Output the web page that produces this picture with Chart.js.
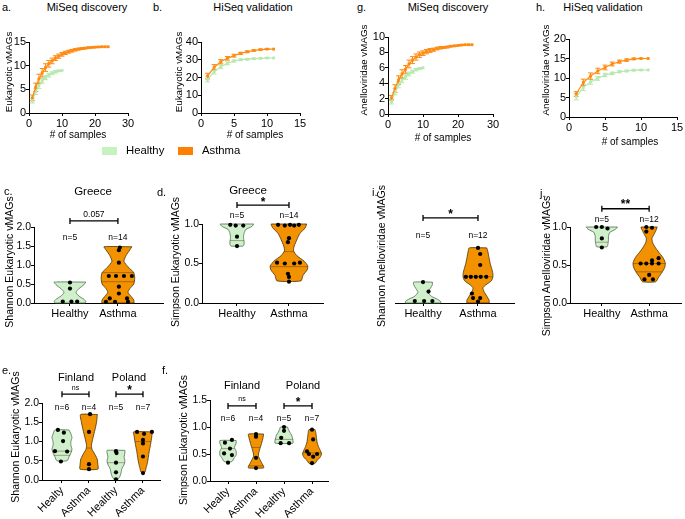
<!DOCTYPE html>
<html><head><meta charset="utf-8">
<script src="https://cdn.jsdelivr.net/npm/chart.js@4.4.1/dist/chart.umd.min.js"></script>
<style>
html,body{margin:0;padding:0;background:#fff;}
#wrap{position:relative;width:685px;height:519px;overflow:hidden;font-family:"Liberation Sans",Arial,sans-serif;color:#000;background:#fff;}
canvas{position:absolute;}
.t{position:absolute;white-space:nowrap;line-height:1;}
</style></head><body><div id="wrap"></div>
<script>
// ---------- rarefaction data ----------
const miseqAsthmaN = [1,2,3,4,5,6,7,8,9,10,11,12,13,14,15,16,17,18,19,20,21,22,23,24];
const miseqHealthyN = [1,2,3,4,5,6,7,8,9,10];
const hiseqN = [1,2,3,4,5,6,7,8,9,10,11];

const eukMiseqAsthma = [3.2,5.4,7.2,8.5,9.6,10.4,11.0,11.6,12.0,12.4,12.7,12.95,13.15,13.35,13.5,13.6,13.7,13.8,13.85,13.9,13.95,14.0,14.0,14.0];
const eukMiseqAsthmaErr = [0.6,0.9,1.0,0.9,0.8,0.7,0.6,0.5,0.45,0.4,0.35,0.3,0.28,0.25,0.2,0.18,0.15,0.12,0.1,0.08,0.06,0.04,0.02,0];
const eukMiseqHealthy = [2.6,4.5,5.8,6.8,7.5,8.0,8.4,8.7,8.9,9.0];
const eukMiseqHealthyErr = [0.5,0.6,0.6,0.5,0.45,0.4,0.3,0.25,0.15,0];

const eukHiseqAsthma = [20.8,25.8,28.9,30.8,32.3,33.6,34.5,35.2,35.7,36.0,36.0];
const eukHiseqAsthmaErr = [1.6,1.5,1.2,1.0,0.8,0.6,0.5,0.4,0.3,0.2,0];
const eukHiseqHealthy = [19.0,23.3,26.0,28.0,29.3,30.0,30.3,30.6,30.8,31.0,31.0];
const eukHiseqHealthyErr = [1.5,1.3,1.0,0.8,0.6,0.5,0.4,0.3,0.2,0.1,0];

const aneMiseqAsthma = [2.1,3.3,4.4,5.2,5.8,6.5,7.0,7.4,7.7,7.9,8.1,8.25,8.35,8.5,8.6,8.65,8.7,8.8,8.85,8.9,8.95,9.0,9.0,9.0];
const aneMiseqAsthmaErr = [0.3,0.5,0.55,0.55,0.5,0.5,0.45,0.4,0.35,0.3,0.28,0.25,0.2,0.18,0.15,0.12,0.1,0.08,0.06,0.05,0.04,0.03,0.02,0];
const aneMiseqHealthy = [1.6,2.9,3.8,4.4,4.8,5.2,5.5,5.75,5.9,6.0];
const aneMiseqHealthyErr = [0.3,0.4,0.4,0.35,0.3,0.25,0.2,0.15,0.1,0];

const aneHiseqAsthma = [5.9,8.9,10.5,11.8,12.7,13.6,14.2,14.6,14.9,15.0,15.0];
const aneHiseqAsthmaErr = [0.6,0.8,0.8,0.7,0.6,0.5,0.4,0.3,0.2,0.1,0];
const aneHiseqHealthy = [5.2,7.6,9.0,9.9,10.8,11.2,11.6,11.8,12.0,12.05,12.05];
const aneHiseqHealthyErr = [0.8,0.8,0.6,0.5,0.4,0.3,0.25,0.2,0.15,0.1,0];

// ---------- violin data (levels = y, widths = half width in category units) ----------
const groupLabels = ['Healthy','Asthma'];
const countryLabels = ['Healty','Asthma','Healthy','Asthma'];

// c. Shannon Eukaryotic, Greece
const cHealthyLevels = [0.55,0.48,0.38,0.28,0.18,0.1,0.04,0.0];
const cHealthyWidths = [0.33,0.29,0.19,0.125,0.19,0.29,0.33,0.31];
const cHealthyPts = [0.54,0.38,0.04,0.04,0.04];
const cHealthyJit = [0,0,-0.15,0.03,0.15];
const cAsthmaLevels = [1.48,1.4,1.25,1.1,0.95,0.8,0.65,0.5,0.38,0.28,0.18,0.08,0.0];
const cAsthmaWidths = [0.29,0.25,0.17,0.125,0.21,0.33,0.35,0.33,0.25,0.21,0.27,0.33,0.33];
const cAsthmaPts = [1.46,1.39,1.06,0.71,0.71,0.71,0.71,0.43,0.25,0.12,0.12,0.03,0.03,0.03];
const cAsthmaJit = [0.04,0.02,0.02,-0.19,-0.04,0.125,0.29,0.02,0.02,-0.17,0.19,-0.25,-0.06,0.21];
const cAsthmaQuart = [[0.8,0.33],[0.56,0.345]];

// d. Simpson Eukaryotic, Greece
const dHealthyLevels = [1.0,0.97,0.93,0.88,0.83,0.78,0.74,0.72];
const dHealthyWidths = [0.32,0.29,0.17,0.135,0.125,0.135,0.135,0.115];
const dHealthyPts = [0.99,0.98,0.98,0.84,0.72];
const dHealthyJit = [-0.13,-0.025,0.12,0,0];
const dHealthyQuart = [[0.79,0.135]];
const dAsthmaLevels = [1.0,0.95,0.88,0.8,0.72,0.66,0.6,0.53,0.47,0.42,0.35,0.28];
const dAsthmaWidths = [0.34,0.31,0.21,0.15,0.1,0.087,0.15,0.29,0.36,0.35,0.27,0.23];
const dAsthmaPts = [0.99,0.98,0.99,0.98,0.99,0.82,0.77,0.51,0.5,0.5,0.51,0.37,0.33,0.27];
const dAsthmaJit = [-0.21,-0.08,0.02,0.1,0.19,0,-0.02,-0.23,-0.08,0.1,0.21,-0.02,0,0];
const dAsthmaQuart = [[0.65,0.09],[0.46,0.36]];

// i. Shannon Anelloviridae
const iHealthyLevels = [0.55,0.48,0.38,0.28,0.18,0.1,0.04,0.0];
const iHealthyWidths = [0.17,0.17,0.13,0.094,0.15,0.26,0.32,0.32];
const iHealthyPts = [0.55,0.3,0.05,0.05,0.05];
const iHealthyJit = [0,0.1,-0.15,0.02,0.17];
const iAsthmaLevels = [1.45,1.35,1.2,1.05,0.9,0.78,0.68,0.58,0.48,0.4,0.3,0.18,0.08,0.0];
const iAsthmaWidths = [0.16,0.18,0.2,0.22,0.25,0.27,0.27,0.24,0.145,0.09,0.11,0.16,0.2,0.2];
const iAsthmaPts = [1.45,1.29,1.0,0.69,0.69,0.69,0.69,0.69,0.25,0.13,0.13,0.04];
const iAsthmaJit = [0,0.04,0.04,-0.22,-0.13,-0.04,0.05,0.15,-0.11,-0.09,0.04,0];
const iAsthmaQuart = [[0.69,0.27]];

// j. Simpson Anelloviridae
const jHealthyLevels = [1.0,0.97,0.93,0.88,0.83,0.78,0.74];
const jHealthyWidths = [0.33,0.29,0.17,0.14,0.14,0.13,0.11];
const jHealthyPts = [1.0,1.0,0.98,0.85,0.73];
const jHealthyJit = [-0.12,0,0.12,0,0];
const jHealthyQuart = [[0.8,0.13]];
const jAsthmaLevels = [1.0,0.95,0.9,0.85,0.8,0.74,0.67,0.6,0.53,0.47,0.4,0.34,0.28];
const jAsthmaWidths = [0.17,0.14,0.1,0.06,0.07,0.12,0.2,0.29,0.34,0.33,0.27,0.2,0.14];
const jAsthmaPts = [1.0,0.99,0.94,0.59,0.56,0.52,0.52,0.52,0.52,0.37,0.31,0.31];
const jAsthmaJit = [-0.06,0.06,-0.06,0.2,0.06,-0.18,-0.06,0.06,0.2,0,-0.1,0.08];
const jAsthmaQuart = [[0.52,0.34],[0.41,0.28]];

// e. Shannon Eukaryotic, Finland / Poland
const e1Levels = [1.3,1.2,1.1,1.0,0.9,0.8,0.7,0.6,0.5];
const e1Widths = [0.26,0.33,0.37,0.33,0.33,0.37,0.33,0.26,0.19];
const e1Pts = [1.3,1.23,1.01,0.75,0.74,0.48];
const e1Jit = [-0.15,0.07,0.04,-0.26,0.19,-0.04];
const e1Quart = [[0.75,0.36],[0.64,0.3]];
const e2Levels = [1.7,1.5,1.3,1.1,0.9,0.8,0.7,0.55,0.4,0.28];
const e2Widths = [0.31,0.28,0.22,0.15,0.09,0.11,0.19,0.3,0.33,0.33];
const e2Pts = [1.71,1.25,0.41,0.28];
const e2Jit = [0.04,0,0,0];
const e2Quart = [[0.83,0.1]];
const e3Levels = [0.77,0.7,0.6,0.5,0.4,0.3,0.2,0.1,0.02];
const e3Widths = [0.33,0.33,0.3,0.33,0.3,0.22,0.19,0.15,0.07];
const e3Pts = [0.75,0.7,0.45,0.2,0.02];
const e3Jit = [0,0.02,0,0,0];
const e3Quart = [[0.45,0.33]];
const e4Levels = [1.25,1.15,1.0,0.85,0.7,0.55,0.4,0.3,0.2];
const e4Widths = [0.35,0.33,0.3,0.26,0.22,0.19,0.15,0.11,0.07];
const e4Pts = [1.25,1.25,1.2,1.04,0.95,0.61,0.18];
const e4Jit = [-0.22,0.33,0.04,0,0,0,0];
const e4Quart = [[1.0,0.3]];

// f. Simpson Eukaryotic, Finland / Poland
const f1Levels = [0.75,0.7,0.62,0.55,0.48,0.42,0.36];
const f1Widths = [0.29,0.29,0.23,0.29,0.29,0.21,0.14];
const f1Pts = [0.76,0.71,0.6,0.51,0.48,0.34];
const f1Jit = [0.14,-0.11,0.07,-0.14,0.14,0];
const f1Quart = [[0.6,0.23]];
const f2Levels = [0.87,0.8,0.7,0.6,0.5,0.45,0.4,0.33,0.27,0.24];
const f2Widths = [0.27,0.25,0.2,0.14,0.09,0.09,0.14,0.21,0.27,0.27];
const f2Pts = [0.87,0.82,0.43,0.24];
const f2Jit = [0,0,0,0];
const f2Quart = [[0.62,0.14],[0.28,0.27]];
const f3Levels = [1.0,0.95,0.9,0.85,0.8,0.75,0.7];
const f3Widths = [0.125,0.16,0.21,0.27,0.3,0.32,0.32];
const f3Pts = [1.0,0.93,0.8,0.7,0.7];
const f3Jit = [0,0,-0.1,-0.12,0.18];
const f3Quart = [[0.77,0.31]];
const f4Levels = [0.95,0.88,0.8,0.72,0.64,0.56,0.5,0.44,0.38,0.33];
const f4Widths = [0.11,0.14,0.16,0.18,0.23,0.3,0.34,0.29,0.18,0.11];
const f4Pts = [0.95,0.77,0.55,0.5,0.5,0.45,0.33];
const f4Jit = [0,0.04,-0.18,-0.11,0.18,0.04,0];
const f4Quart = [[0.52,0.33]];

// ---------- styles ----------
const ORANGE = '#FF8A10', GREEN = '#B6E8AF';
const VFILL_H = '#CFF0CA', VLINE_H = '#4d6e4d';
const VFILL_A = '#F39200', VLINE_A = '#4a2e00';

Chart.defaults.font.family = '"Liberation Sans", Arial, sans-serif';
Chart.defaults.color = '#000';
Chart.defaults.animation = false;

const W = document.getElementById('wrap');

const anno = {
  id: 'anno',
  beforeDatasetsDraw(chart) {
    const ctx = chart.ctx, ys = chart.scales.y, xs = chart.scales.x;
    ctx.save();
    chart.data.datasets.forEach((ds) => {
      if (!ds.errors) return;
      ctx.strokeStyle = ds.borderColor; ctx.lineWidth = 1;
      ds.data.forEach((p, j) => {
        const e = ds.errors[j]; if (!e) return;
        const x = xs.getPixelForValue(p.x);
        const y1 = ys.getPixelForValue(p.y + e), y2 = ys.getPixelForValue(p.y - e);
        ctx.beginPath();
        ctx.moveTo(x, y1); ctx.lineTo(x, y2);
        ctx.moveTo(x - 2.5, y1); ctx.lineTo(x + 2.5, y1);
        ctx.moveTo(x - 2.5, y2); ctx.lineTo(x + 2.5, y2);
        ctx.stroke();
      });
    });
    ctx.restore();
  },
  afterDatasetsDraw(chart, args, opts) {
    const ctx = chart.ctx, xs = chart.scales.x, ys = chart.scales.y;
    ctx.save();
    (opts.brackets || []).forEach(b => {
      const x1 = xs.getPixelForValue(b.x1), x2 = xs.getPixelForValue(b.x2), y = ys.getPixelForValue(b.y);
      ctx.strokeStyle = '#000'; ctx.lineWidth = 1.3;
      ctx.beginPath();
      ctx.moveTo(x1, y); ctx.lineTo(x2, y);
      ctx.moveTo(x1, y - 3); ctx.lineTo(x1, y + 3);
      ctx.moveTo(x2, y - 3); ctx.lineTo(x2, y + 3);
      ctx.stroke();
    });
    (opts.texts || []).forEach(t => {
      ctx.fillStyle = '#000';
      ctx.font = (t.bold ? 'bold ' : '') + t.size + 'px "Liberation Sans", Arial, sans-serif';
      ctx.textAlign = 'center'; ctx.textBaseline = 'middle';
      ctx.fillText(t.text, xs.getPixelForValue(t.x), ys.getPixelForValue(t.y));
    });
    ctx.restore();
  }
};

function addCanvas(b) {
  const c = document.createElement('canvas');
  c.width = b[2]; c.height = b[3];
  c.style.left = b[0] + 'px'; c.style.top = b[1] + 'px';
  c.style.width = b[2] + 'px'; c.style.height = b[3] + 'px';
  W.appendChild(c);
  return c;
}

function axis(min, max, extra) {
  return Object.assign({
    type: 'linear', min, max,
    border: {display: true, color: '#000', width: 1},
    grid: {display: true, drawOnChartArea: false, drawTicks: true, tickLength: 3, color: '#000', lineWidth: 1},
    ticks: {color: '#000', font: {size: 11}, padding: 1, maxRotation: 0, autoSkip: false}
  }, extra);
}

// box = canvas [left, top, w, h]; area = plot area [L, T, R, B] in page px; yW / xH = fixed axis box sizes
function mk(box, area, datasets, scales, annoOpts, yW, xH) {
  const c = addCanvas(box);
  return new Chart(c, {
    type: 'line',
    data: {datasets},
    options: {
      responsive: false, animation: false,
      layout: {padding: {left: area[0] - box[0] - yW, top: area[1] - box[1], right: box[0] + box[2] - area[2], bottom: box[1] + box[3] - area[3] - xH}},
      plugins: {legend: {display: false}, tooltip: {enabled: false}, anno: annoOpts || {}},
      scales
    },
    plugins: [anno]
  });
}

function curve(xs, ys, errs, color, order) {
  return {
    data: xs.map((x, i) => ({x, y: ys[i]})), errors: errs, order,
    borderColor: color, backgroundColor: color, borderWidth: 1.2,
    pointStyle: 'rect', pointRadius: 2, pointBorderWidth: 0, tension: 0, clip: false
  };
}

const YW = 25, XH = 20, XH_ROT = 50;

function curvePanel(box, area, xmax, xstep, ymax, ystep, h, he, a, ae, hx, ax) {
  mk(box, area, [curve(hx, h, he, GREEN, 1), curve(ax, a, ae, ORANGE, 0)], {
    x: axis(0, xmax, {ticks: {color: '#000', font: {size: 11}, padding: 1, maxRotation: 0, autoSkip: false, stepSize: xstep}, afterFit(s) { s.height = XH; }}),
    y: axis(0, ymax, {ticks: {color: '#000', font: {size: 11}, padding: 0, autoSkip: false, stepSize: ystep}, afterFit(s) { s.width = YW; }})
  }, {}, YW, XH);
}

function violin(center, levels, widths, pts, jit, quart, fill, line) {
  const outline = [];
  levels.forEach((y, i) => outline.push({x: center + widths[i], y}));
  for (let i = levels.length - 1; i >= 0; i--) outline.push({x: center - widths[i], y: levels[i]});
  outline.push({x: center + widths[0], y: levels[0]});
  const sets = [{
    data: outline, fill: 'shape', backgroundColor: fill, borderColor: line, borderWidth: 0.8, order: 3,
    pointRadius: 0, tension: 0.2, clip: false, borderJoinStyle: 'round'
  }];
  (quart || []).forEach(q => sets.push({
    data: [{x: center - q[1], y: q[0]}, {x: center + q[1], y: q[0]}], order: 2,
    borderColor: 'rgba(60,40,0,0.55)', borderWidth: 0.7, pointRadius: 0, fill: false, clip: false
  }));
  sets.push({
    data: pts.map((v, i) => ({x: center + jit[i], y: v})), showLine: false, order: 1,
    pointRadius: 2.1, pointBackgroundColor: '#000', pointBorderWidth: 0, clip: false
  });
  return sets;
}

function violinPanel(box, area, xmin, xmax, ymax, ystep, labels, rot, sets, annoOpts, showY) {
  const xh = rot ? XH_ROT : XH;
  const yw = showY === false ? 0 : YW;
  const xTicks = {color: '#000', font: {size: 11}, padding: 1, autoSkip: false,
    maxRotation: rot, minRotation: rot, callback: (v, i) => labels[i]};
  const yTicks = {color: '#000', font: {size: 10.5}, padding: 0, autoSkip: false, stepSize: ystep,
    callback: v => v.toFixed(1)};
  mk(box, area, sets, {
    x: axis(xmin, xmax, {ticks: xTicks, afterBuildTicks(s) { s.ticks = labels.map((_, i) => ({value: i + 1})); }, afterFit(s) { s.height = xh; }}),
    y: showY === false ? {type: 'linear', min: 0, max: ymax, display: false}
      : axis(0, ymax, {ticks: yTicks, afterFit(s) { s.width = yw; }})
  }, annoOpts, yw, xh);
}

// ---------- rarefaction panels ----------
curvePanel([0, 20, 170, 125], [29, 42, 128, 113], 30, 10, 15, 5,
  eukMiseqHealthy, eukMiseqHealthyErr, eukMiseqAsthma, eukMiseqAsthmaErr, miseqHealthyN, miseqAsthmaN);
curvePanel([170, 20, 165, 125], [201, 42, 300, 113], 15, 5, 40, 10,
  eukHiseqHealthy, eukHiseqHealthyErr, eukHiseqAsthma, eukHiseqAsthmaErr, hiseqN, hiseqN);
curvePanel([340, 20, 175, 125], [388, 37, 493, 114], 30, 10, 10, 2,
  aneMiseqHealthy, aneMiseqHealthyErr, aneMiseqAsthma, aneMiseqAsthmaErr, miseqHealthyN, miseqAsthmaN);
curvePanel([515, 20, 170, 125], [569, 39, 677, 117], 15, 5, 20, 5,
  aneHiseqHealthy, aneHiseqHealthyErr, aneHiseqAsthma, aneHiseqAsthmaErr, hiseqN, hiseqN);

// ---------- violin panels ----------
violinPanel([0, 195, 170, 135], [34, 227, 163, 303], 0.25, 2.94, 2, 0.5, groupLabels, 0,
  [...violin(1, cHealthyLevels, cHealthyWidths, cHealthyPts, cHealthyJit, [], VFILL_H, VLINE_H),
   ...violin(2, cAsthmaLevels, cAsthmaWidths, cAsthmaPts, cAsthmaJit, cAsthmaQuart, VFILL_A, VLINE_A)],
  {brackets: [{x1: 1, x2: 2, y: 2.16}],
   texts: [{text: '0.057', x: 1.5, y: 2.32, size: 8.5}, {text: 'n=5', x: 1, y: 1.71, size: 8.5}, {text: 'n=14', x: 2, y: 1.71, size: 8.5}]});

violinPanel([170, 195, 165, 135], [202, 224, 323, 303], 0.327, 2.654, 1, 0.5, groupLabels, 0,
  [...violin(1, dHealthyLevels, dHealthyWidths, dHealthyPts, dHealthyJit, dHealthyQuart, VFILL_H, VLINE_H),
   ...violin(2, dAsthmaLevels, dAsthmaWidths, dAsthmaPts, dAsthmaJit, dAsthmaQuart, VFILL_A, VLINE_A)],
  {brackets: [{x1: 1, x2: 2, y: 1.24}],
   texts: [{text: '*', x: 1.5, y: 1.27, size: 12, bold: true}, {text: 'n=5', x: 1, y: 1.11, size: 8.5}, {text: 'n=14', x: 2, y: 1.11, size: 8.5}]});

violinPanel([385, 195, 140, 135], [395, 227, 514, 303], 0.49, 2.655, 2, 0.5, groupLabels, 0,
  [...violin(1, iHealthyLevels, iHealthyWidths, iHealthyPts, iHealthyJit, [], VFILL_H, VLINE_H),
   ...violin(2, iAsthmaLevels, iAsthmaWidths, iAsthmaPts, iAsthmaJit, iAsthmaQuart, VFILL_A, VLINE_A)],
  {brackets: [{x1: 1, x2: 2, y: 2.24}],
   texts: [{text: '*', x: 1.5, y: 2.33, size: 12, bold: true}, {text: 'n=5', x: 1, y: 1.76, size: 8.5}, {text: 'n=12', x: 2, y: 1.76, size: 8.5}]},
  false);

violinPanel([540, 195, 145, 135], [570, 227, 685, 303], 0.327, 2.673, 1, 0.5, groupLabels, 0,
  [...violin(1, jHealthyLevels, jHealthyWidths, jHealthyPts, jHealthyJit, jHealthyQuart, VFILL_H, VLINE_H),
   ...violin(2, jAsthmaLevels, jAsthmaWidths, jAsthmaPts, jAsthmaJit, jAsthmaQuart, VFILL_A, VLINE_A)],
  {brackets: [{x1: 1, x2: 2, y: 1.24}],
   texts: [{text: '**', x: 1.5, y: 1.29, size: 12, bold: true}, {text: 'n=5', x: 1, y: 1.1, size: 8.5}, {text: 'n=12', x: 2, y: 1.1, size: 8.5}]});

violinPanel([0, 370, 170, 165], [42, 403, 160, 480], 0.26, 4.63, 2, 0.5, countryLabels, 45,
  [...violin(1, e1Levels, e1Widths, e1Pts, e1Jit, e1Quart, VFILL_H, VLINE_H),
   ...violin(2, e2Levels, e2Widths, e2Pts, e2Jit, e2Quart, VFILL_A, VLINE_A),
   ...violin(3, e3Levels, e3Widths, e3Pts, e3Jit, e3Quart, VFILL_H, VLINE_H),
   ...violin(4, e4Levels, e4Widths, e4Pts, e4Jit, e4Quart, VFILL_A, VLINE_A)],
  {brackets: [{x1: 1, x2: 2, y: 2.23}, {x1: 3, x2: 4, y: 2.23}],
   texts: [{text: 'ns', x: 1.5, y: 2.4, size: 7}, {text: '*', x: 3.5, y: 2.33, size: 12, bold: true},
           {text: 'n=6', x: 1, y: 1.87, size: 8.5}, {text: 'n=4', x: 2, y: 1.87, size: 8.5},
           {text: 'n=5', x: 3, y: 1.87, size: 8.5}, {text: 'n=7', x: 4, y: 1.87, size: 8.5}]});

violinPanel([160, 370, 175, 165], [210, 400, 328, 481], 0.357, 4.571, 1.5, 0.5, countryLabels, 45,
  [...violin(1, f1Levels, f1Widths, f1Pts, f1Jit, f1Quart, VFILL_H, VLINE_H),
   ...violin(2, f2Levels, f2Widths, f2Pts, f2Jit, f2Quart, VFILL_A, VLINE_A),
   ...violin(3, f3Levels, f3Widths, f3Pts, f3Jit, f3Quart, VFILL_H, VLINE_H),
   ...violin(4, f4Levels, f4Widths, f4Pts, f4Jit, f4Quart, VFILL_A, VLINE_A)],
  {brackets: [{x1: 1, x2: 2, y: 1.39}, {x1: 3, x2: 4, y: 1.39}],
   texts: [{text: 'ns', x: 1.5, y: 1.51, size: 7}, {text: '*', x: 3.5, y: 1.45, size: 12, bold: true},
           {text: 'n=6', x: 1, y: 1.15, size: 8.5}, {text: 'n=4', x: 2, y: 1.15, size: 8.5},
           {text: 'n=5', x: 3, y: 1.15, size: 8.5}, {text: 'n=7', x: 4, y: 1.15, size: 8.5}]});

// ---------- HTML text ----------
function txt(s, x, y, size, align, rot) {
  const d = document.createElement('div');
  d.className = 't'; d.textContent = s; d.style.fontSize = size + 'px';
  d.style.left = x + 'px'; d.style.top = y + 'px';
  const tx = align === 'left' ? '0' : (align === 'right' ? '-100%' : '-50%');
  d.style.transform = 'translate(' + tx + ',-50%)' + (rot ? ' rotate(' + rot + 'deg)' : '');
  W.appendChild(d);
}
// panel letters and titles
txt('a.', 2, 7, 11, 'left'); txt('MiSeq discovery', 87, 7, 11);
txt('b.', 153, 7, 11, 'left'); txt('HiSeq validation', 253, 7, 11);
txt('g.', 357, 7, 11, 'left'); txt('MiSeq discovery', 448, 7, 11);
txt('h.', 536, 7, 11, 'left'); txt('HiSeq validation', 603, 7, 11);
txt('c.', 4, 191, 11, 'left'); txt('Greece', 93, 192, 11.5);
txt('d.', 157, 192, 11, 'left'); txt('Greece', 248, 191, 11.5);
txt('i.', 372, 192, 11, 'left');
txt('j.', 540, 193, 11, 'left');
txt('e.', 2, 370, 11, 'left'); txt('Finland', 76, 377, 11); txt('Poland', 129, 377, 11);
txt('f.', 162, 370, 11, 'left'); txt('Finland', 242, 385, 11); txt('Poland', 303, 385, 11);
// axis titles
txt('Eukaryotic vMAGs', 9, 72, 9.8, 'center', -90);
txt('Eukaryotic vMAGs', 179, 72, 9.8, 'center', -90);
txt('Anelloviridae vMAGs', 364, 70, 9.8, 'center', -90);
txt('Anelloviridae vMAGs', 546, 70, 9.8, 'center', -90);
txt('# of samples', 78, 135, 10);
txt('# of samples', 255, 135, 10);
txt('# of samples', 443, 138, 10);
txt('# of samples', 630, 142, 10);
txt('Shannon Eukaryotic vMAGs', 9, 262, 10.5, 'center', -90);
txt('Simpson Eukaryotic vMAGs', 175, 262, 10.5, 'center', -90);
txt('Shannon Anelloviridae vMAGs', 381, 256, 10.5, 'center', -90);
txt('Simpson Anelloviridae vMAGs', 546, 266, 10.5, 'center', -90);
txt('Shannon Eukaryotic vMAGs', 15, 437, 10.5, 'center', -90);
txt('Simpson Eukaryotic vMAGs', 183, 440, 10.5, 'center', -90);
// legend
(function () {
  const sw = (x, c) => { const d = document.createElement('div'); d.style.cssText = 'position:absolute;left:' + x + 'px;top:147px;width:15px;height:8px;background:' + c; W.appendChild(d); };
  sw(102, '#C5F2BF'); sw(178, '#FF7F00');
  txt('Healthy', 126, 151, 11.3, 'left');
  txt('Asthma', 202, 151, 11.3, 'left');
})();
</script></body></html>
